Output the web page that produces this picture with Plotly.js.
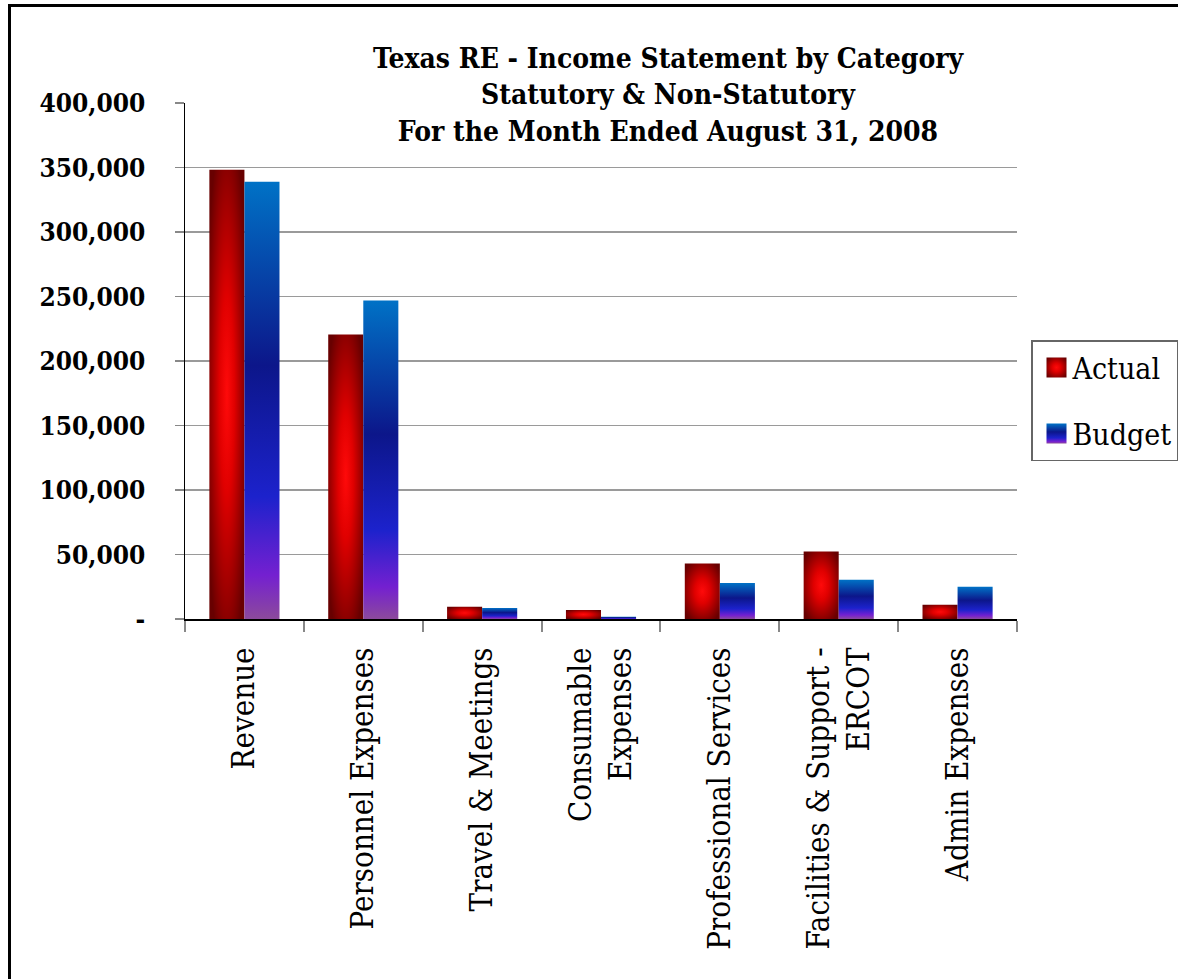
<!DOCTYPE html>
<html>
<head>
<meta charset="utf-8">
<script src="https://cdn.plot.ly/plotly-3.0.1.min.js"></script>
<style>
  html, body { margin: 0; padding: 0; background: #fff; overflow: hidden; }
  #chart { position: absolute; left: 0; top: 0; width: 1178px; height: 979px; }
  #frame { position: absolute; left: 8px; top: 4px; width: 1300px; height: 1100px;
           border-left: 3px solid #000; border-top: 3px solid #000; pointer-events: none; }
</style>
</head>
<body>
<div id="chart"></div>
<div id="frame"></div>
<script>
const categories = [
  "Revenue",
  "Personnel Expenses",
  "Travel & Meetings",
  "Consumable<br>Expenses",
  "Professional Services",
  "Facilities & Support -<br>ERCOT",
  "Admin Expenses"
];
const actualValues = [348300, 220600, 9400, 7000, 43000, 52300, 11000];
const budgetValues = [339000, 246900, 8600, 1800, 28000, 30500, 25000];
const yTickVals = [0, 50000, 100000, 150000, 200000, 250000, 300000, 350000, 400000];
const yTickText = ["-", "50,000", "100,000", "150,000", "200,000", "250,000", "300,000", "350,000", "400,000"];
const seriesNames = ["Actual", "Budget"];

const serif = '"DejaVu Serif Condensed", "DejaVu Serif", "Liberation Serif", serif';

const traces = [
  { type: "bar", name: seriesNames[0], x: categories, y: actualValues,
    marker: { color: "#c00000", line: { width: 0 } }, legendgroup: "a" },
  { type: "bar", name: seriesNames[1], x: categories, y: budgetValues,
    marker: { color: "#1428b0", line: { width: 0 } }, legendgroup: "b" }
];

const layout = {
  width: 1178, height: 979,
  margin: { l: 185, r: 161, t: 103, b: 360, autoexpand: false },
  paper_bgcolor: "#fff", plot_bgcolor: "#fff",
  barmode: "group", bargap: 0.41, bargroupgap: 0,
  showlegend: true,
  title: {
    text: "Texas RE - Income Statement by Category<br>Statutory &amp; Non-Statutory<br>For the Month Ended August 31, 2008",
    font: { family: serif, size: 28, color: "#000", weight: "bold" },
    xref: "container", x: 668 / 1178, xanchor: "center",
    yref: "container", y: 1 - 68 / 979, yanchor: "top"
  },
  xaxis: {
    type: "category",
    tickangle: -90,
    tickfont: { family: serif, size: 31, color: "#000" },
    showline: true, linecolor: "#000", linewidth: 2,
    ticks: "outside", tickson: "boundaries", ticklen: 11, tickcolor: "#888", tickwidth: 2,
    ticklabelstandoff: 14,
    showgrid: false, zeroline: false, fixedrange: true,
    automargin: false
  },
  yaxis: {
    range: [0, 400000],
    tickvals: yTickVals, ticktext: yTickText,
    tickfont: { family: serif, size: 26, color: "#000", weight: "bold" },
    showline: true, linecolor: "#000", linewidth: 1.5,
    ticks: "outside", ticklen: 9, tickcolor: "#888", tickwidth: 1.5,
    ticklabelstandoff: 24,
    showgrid: true, gridcolor: "#9a9a9a", gridwidth: 1.5,
    zeroline: false, fixedrange: true, automargin: false
  },
  legend: {
    x: (1031 - 185) / 832, xanchor: "left",
    y: (619 - 340) / 516, yanchor: "top",
    bordercolor: "#666", borderwidth: 1.5, bgcolor: "#fff",
    font: { family: serif, size: 30, color: "#000" },
    tracegroupgap: 24, itemclick: false, itemdoubleclick: false
  }
};

Plotly.newPlot("chart", traces, layout, { displayModeBar: false, staticPlot: true }).then(function (gd) {
  const svg = gd.querySelector("svg.main-svg");
  const NS = "http://www.w3.org/2000/svg";
  let defs = svg.querySelector("defs");
  if (!defs) { defs = document.createElementNS(NS, "defs"); svg.insertBefore(defs, svg.firstChild); }

  const rg = document.createElementNS(NS, "radialGradient");
  rg.setAttribute("id", "gradActual");
  rg.setAttribute("cx", "0.5"); rg.setAttribute("cy", "0.5"); rg.setAttribute("r", "0.62");
  [["0", "#ff0a0a"], ["0.35", "#e00000"], ["0.75", "#960000"], ["1", "#680000"]].forEach(function (s) {
    const st = document.createElementNS(NS, "stop");
    st.setAttribute("offset", s[0]); st.setAttribute("stop-color", s[1]); rg.appendChild(st);
  });
  defs.appendChild(rg);

  const lg = document.createElementNS(NS, "linearGradient");
  lg.setAttribute("id", "gradBudget");
  lg.setAttribute("x1", "0"); lg.setAttribute("y1", "0"); lg.setAttribute("x2", "0"); lg.setAttribute("y2", "1");
  [["0", "#0072c6"], ["0.42", "#0c168a"], ["0.72", "#1c22cc"], ["0.9", "#7420d0"], ["1", "#8c4a9c"]].forEach(function (s) {
    const st = document.createElementNS(NS, "stop");
    st.setAttribute("offset", s[0]); st.setAttribute("stop-color", s[1]); lg.appendChild(st);
  });
  defs.appendChild(lg);

  const ids = ["gradActual", "gradBudget"];
  gd.querySelectorAll("g.trace.bars").forEach(function (g, i) {
    g.querySelectorAll("path").forEach(function (p) { p.style.fill = "url(#" + ids[i] + ")"; });
  });
  gd.querySelectorAll("g.legend g.traces").forEach(function (g, i) {
    g.querySelectorAll("path").forEach(function (p) {
      if (p.style.fill && p.style.fill !== "none") {
        p.style.fill = "url(#" + ids[i] + ")";
        p.setAttribute("d", "M14,10H-6V-10H14Z");
      }
    });
  });
});
</script>
</body>
</html>
